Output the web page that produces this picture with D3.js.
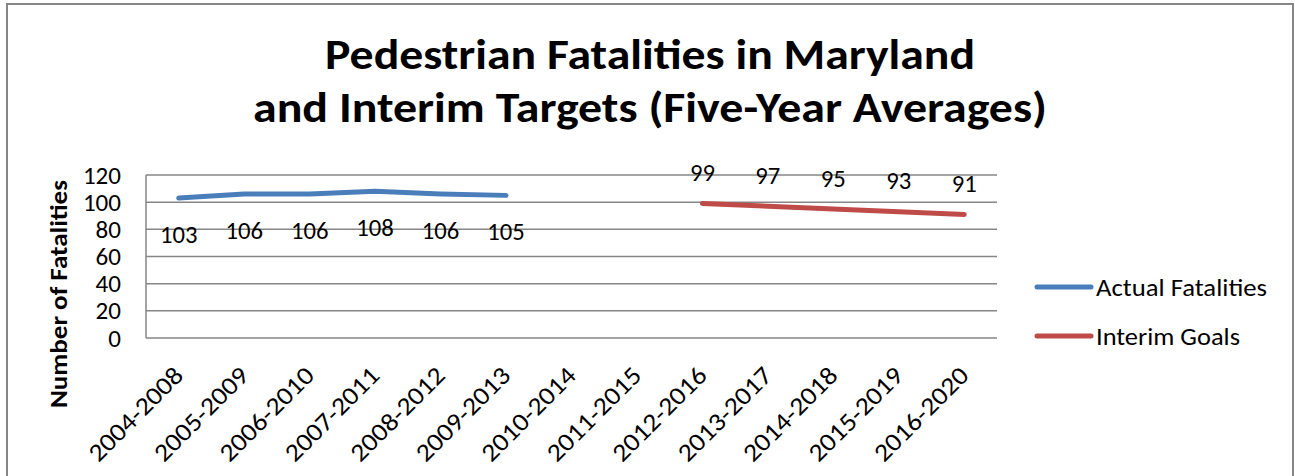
<!DOCTYPE html>
<html>
<head>
<meta charset="utf-8">
<script src="https://cdn.jsdelivr.net/npm/d3@7"></script>
<style>
  body { margin: 0; background: #fff; }
  svg { display: block; font-family: Carlito, Calibri, Lato, sans-serif; }
</style>
</head>
<body>
<div id="chart"></div>
<script>
var periods = ['2004-2008', '2005-2009', '2006-2010', '2007-2011', '2008-2012', '2009-2013',
    '2010-2014', '2011-2015', '2012-2016', '2013-2017', '2014-2018', '2015-2019', '2016-2020'];
var actual = [103, 106, 106, 108, 106, 105, null, null, null, null, null, null, null];
var goals = [null, null, null, null, null, null, null, null, 99, 97, 95, 93, 91];
var yTicks = [0, 20, 40, 60, 80, 100, 120];
var titleLines = ['Pedestrian Fatalities in Maryland', 'and Interim Targets (Five-Year Averages)'];

var width = 1295, height = 476;
var plot = { left: 146, right: 997, top: 175, bottom: 338 };

var svg = d3.select('#chart').append('svg')
    .attr('width', width)
    .attr('height', height);

// stretch a text to a given width: half by size, half by glyph spacing
function fit(sel, target) {
    sel.each(function() {
        var t = d3.select(this);
        var w = this.getComputedTextLength();
        if (!w) { return; }
        var r = target / w;
        var size = parseFloat(t.attr('font-size'));
        t.attr('font-size', size * Math.sqrt(r));
        t.attr('textLength', target).attr('lengthAdjust', 'spacingAndGlyphs');
    });
}

// same, with the target width given per character
function charFit(sel, refWidthPerChar) {
    sel.each(function() {
        var t = d3.select(this);
        fit(t, refWidthPerChar * t.text().length);
    });
}

// outer chart border (bottom runs off the picture)
svg.append('rect')
    .attr('x', 7).attr('y', 4)
    .attr('width', 1286).attr('height', 500)
    .attr('fill', '#fff')
    .attr('stroke', '#868686')
    .attr('stroke-width', 2);

var x = d3.scaleBand().domain(periods).range([plot.left, plot.right]);
var y = d3.scaleLinear().domain([0, 120]).range([plot.bottom, plot.top]);
var cx = function(d) { return x(d) + x.bandwidth() / 2; };

// title
var titleWidths = [650, 794];
svg.append('g').selectAll('text')
    .data(titleLines)
    .enter().append('text')
    .attr('x', 650)
    .attr('y', function(d, i) { return 69 + i * 53; })
    .attr('text-anchor', 'middle')
    .attr('font-size', 37)
    .attr('font-weight', 'bold')
    .text(function(d) { return d; })
    .each(function(d, i) { fit(d3.select(this), titleWidths[i]); });

// gridlines
svg.append('g').selectAll('line')
    .data(yTicks)
    .enter().append('line')
    .attr('x1', plot.left).attr('x2', plot.right)
    .attr('y1', function(d) { return y(d); })
    .attr('y2', function(d) { return y(d); })
    .attr('stroke', '#868686')
    .attr('stroke-width', 1.5);

// y axis line
svg.append('line')
    .attr('x1', plot.left).attr('x2', plot.left)
    .attr('y1', plot.top).attr('y2', plot.bottom)
    .attr('stroke', '#868686')
    .attr('stroke-width', 1.5);

// y tick labels
svg.append('g').selectAll('text')
    .data(yTicks)
    .enter().append('text')
    .attr('x', 121)
    .attr('y', function(d) { return y(d); })
    .attr('dy', '0.36em')
    .attr('text-anchor', 'end')
    .attr('font-size', 23)
    .text(function(d) { return d; })
    .call(charFit, 12.7);

// y title
svg.append('text')
    .attr('transform', 'translate(67,294) rotate(-90)')
    .attr('text-anchor', 'middle')
    .attr('font-size', 23)
    .attr('font-weight', 'bold')
    .text('Number of Fatalities')
    .call(fit, 228);

// x labels
svg.append('g').selectAll('text')
    .data(periods)
    .enter().append('text')
    .attr('transform', function(d) { return 'translate(' + (cx(d) + 6) + ',377) rotate(-45)'; })
    .attr('text-anchor', 'end')
    .attr('font-size', 23)
    .text(function(d) { return d; })
    .call(fit, 122);

var line = d3.line()
    .defined(function(d) { return d.v !== null; })
    .x(function(d) { return cx(d.p); })
    .y(function(d) { return y(d.v); });

var series = [
    { name: 'Actual Fatalities', values: actual, color: '#4A7EBB', labelDy: 36, legendW: 171 },
    { name: 'Interim Goals', values: goals, color: '#BE4B48', labelDy: -31, legendW: 144 }
];

series.forEach(function(s) {
    var pts = periods.map(function(p, i) { return { p: p, v: s.values[i] }; });
    svg.append('path')
        .datum(pts)
        .attr('d', line)
        .attr('fill', 'none')
        .attr('stroke', s.color)
        .attr('stroke-width', 5)
        .attr('stroke-linecap', 'round')
        .attr('stroke-linejoin', 'round');

    svg.append('g').selectAll('text')
        .data(pts.filter(function(d) { return d.v !== null; }))
        .enter().append('text')
        .attr('x', function(d) { return cx(d.p); })
        .attr('y', function(d) { return y(d.v) + s.labelDy; })
        .attr('dy', '0.36em')
        .attr('text-anchor', 'middle')
        .attr('font-size', 24)
        .text(function(d) { return d.v; })
        .call(charFit, 12.5);
});

// legend
var legend = svg.append('g').selectAll('g')
    .data(series)
    .enter().append('g')
    .attr('transform', function(d, i) { return 'translate(1037,' + (287 + i * 49) + ')'; });

legend.append('line')
    .attr('x1', 0).attr('x2', 54)
    .attr('stroke', function(d) { return d.color; })
    .attr('stroke-width', 5)
    .attr('stroke-linecap', 'round');

legend.append('text')
    .attr('x', 59)
    .attr('dy', '0.36em')
    .attr('font-size', 24)
    .text(function(d) { return d.name; })
    .each(function(d) { fit(d3.select(this), d.legendW); });
</script>
</body>
</html>
